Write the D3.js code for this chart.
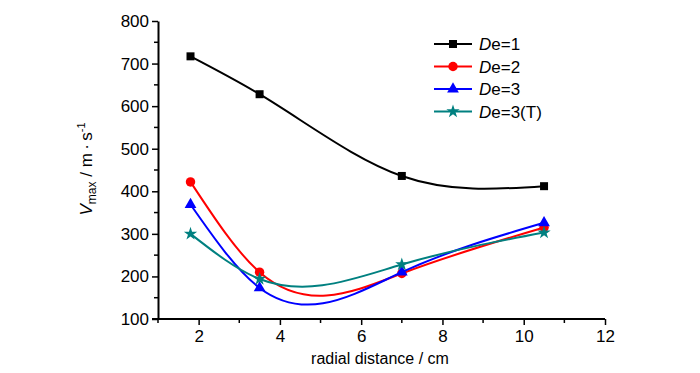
<html>
<head>
<script src="https://cdnjs.cloudflare.com/ajax/libs/d3/7.8.5/d3.min.js"></script>
<style>
  body { margin: 0; background: #fff; }
  text { font-family: "Liberation Sans", Arial, sans-serif; fill: #000; }
</style>
</head>
<body>
<svg id="chart"></svg>
<script>

    var width = 700,
        height = 373;

    // radial distance (cm)
    var distance = [1.8, 3.5, 7, 10.5];

    var de1 = [717, 628, 436, 412];
    var de2 = [422, 210, 207, 315];
    var de3 = [369, 173, 210, 326];
    var de3t = [300, 194, 228, 303];

    var seriesNames = ["De=1", "De=2", "De=3", "De=3(T)"];
    var xTicks = [2, 4, 6, 8, 10, 12];
    var yTicks = [100, 200, 300, 400, 500, 600, 700, 800];

    var series = [
        {name: seriesNames[0], values: de1, color: "#000000", symbol: d3.symbolSquare, size: 64},
        {name: seriesNames[1], values: de2, color: "#ff0000", symbol: d3.symbolCircle, size: 70},
        {name: seriesNames[2], values: de3, color: "#0000ff", symbol: d3.symbolTriangle, size: 60},
        {name: seriesNames[3], values: de3t, color: "#008080", symbol: d3.symbolStar, size: 55}
    ];

    // natural cubic spline parametrised by x (like Origin's spline connect)
    function NaturalX(context) { this._context = context; }
    NaturalX.prototype = {
        areaStart: function() { this._line = 0; },
        areaEnd: function() { this._line = NaN; },
        lineStart: function() { this._xs = []; this._ys = []; },
        point: function(px, py) { this._xs.push(+px); this._ys.push(+py); },
        lineEnd: function() {
            var xs = this._xs, ys = this._ys, n = xs.length, c = this._context;
            if (!n) return;
            c.moveTo(xs[0], ys[0]);
            if (n < 3) { if (n === 2) c.lineTo(xs[1], ys[1]); return; }
            var h = [], d = [], i;
            for (i = 0; i < n - 1; i++) { h[i] = xs[i + 1] - xs[i]; d[i] = (ys[i + 1] - ys[i]) / h[i]; }
            // tridiagonal system for second derivatives (M0 = Mn = 0)
            var M = new Array(n).fill(0), a = [], b = [], r = [];
            for (i = 1; i < n - 1; i++) {
                a[i] = h[i - 1]; b[i] = 2 * (h[i - 1] + h[i]); r[i] = 6 * (d[i] - d[i - 1]);
            }
            var cp = [], rp = [];
            for (i = 1; i < n - 1; i++) {
                var den = b[i] - (i > 1 ? a[i] * cp[i - 1] : 0);
                cp[i] = h[i] / den;
                rp[i] = (r[i] - (i > 1 ? a[i] * rp[i - 1] : 0)) / den;
            }
            for (i = n - 2; i >= 1; i--) M[i] = rp[i] - (i < n - 2 ? cp[i] * M[i + 1] : 0);
            for (i = 0; i < n - 1; i++) {
                var m0 = d[i] - h[i] * (2 * M[i] + M[i + 1]) / 6,
                    m1 = d[i] + h[i] * (M[i] + 2 * M[i + 1]) / 6,
                    t = h[i] / 3;
                c.bezierCurveTo(xs[i] + t, ys[i] + m0 * t, xs[i + 1] - t, ys[i + 1] - m1 * t, xs[i + 1], ys[i + 1]);
            }
        }
    };
    var curveNaturalX = function(context) { return new NaturalX(context); };

    var x = d3.scaleLinear()
        .domain([1, 12])
        .range([158, 605]);

    var y = d3.scaleLinear()
        .domain([100, 800])
        .range([319, 21]);

    var svg = d3.select("#chart")
        .attr("width", width)
        .attr("height", height);

    // minor ticks
    var xMinor = d3.range(1, 12, 2);
    var yMinor = d3.range(150, 800, 100);

    svg.append("g")
        .selectAll("line")
        .data(xMinor)
        .enter().append("line")
        .attr("x1", function(d) { return x(d); })
        .attr("x2", function(d) { return x(d); })
        .attr("y1", 319)
        .attr("y2", 323)
        .attr("stroke", "#000")
        .attr("stroke-width", 1.5);

    svg.append("g")
        .selectAll("line")
        .data(yMinor)
        .enter().append("line")
        .attr("x1", 154)
        .attr("x2", 158)
        .attr("y1", function(d) { return y(d); })
        .attr("y2", function(d) { return y(d); })
        .attr("stroke", "#000")
        .attr("stroke-width", 1.5);

    var xAxis = svg.append("g")
        .attr("transform", "translate(0,319)")
        .call(d3.axisBottom(x).tickValues(xTicks).tickSize(6).tickSizeOuter(0).tickPadding(5));

    var yAxis = svg.append("g")
        .attr("transform", "translate(158,0)")
        .call(d3.axisLeft(y).tickValues(yTicks).tickSize(6).tickSizeOuter(0).tickPadding(3));

    [xAxis, yAxis].forEach(function(a) {
        a.select(".domain").attr("stroke-width", 2);
        a.selectAll(".tick line").attr("stroke-width", 1.5);
        a.selectAll(".tick text")
            .style("font-family", "'Liberation Sans', Arial, sans-serif")
            .style("font-size", "17px")
            .attr("fill", "#000");
    });
    xAxis.select(".domain").attr("d", "M152,0H605");

    // axis titles
    svg.append("text")
        .attr("x", 380)
        .attr("y", 364)
        .attr("text-anchor", "middle")
        .style("font-size", "16px")
        .text("radial distance / cm");

    var yt = svg.append("text")
        .attr("transform", "translate(92,169) rotate(-90)")
        .attr("text-anchor", "middle")
        .style("font-size", "17px");
    yt.append("tspan").style("font-style", "italic").text("V");
    yt.append("tspan").attr("dy", 4).style("font-size", "12px").text("max");
    yt.append("tspan").attr("dy", -4).text(" / m\u2009\u00b7\u2009s");
    yt.append("tspan").attr("dy", -7).style("font-size", "11px").text("-1");

    var line = d3.line()
        .x(function(d, i) { return x(distance[i]); })
        .y(function(d) { return y(d); })
        .curve(curveNaturalX);

    var groups = svg.append("g")
        .selectAll(".series")
        .data(series)
        .enter().append("g")
        .attr("class", "series");

    groups.append("path")
        .attr("d", function(s) { return line(s.values); })
        .attr("fill", "none")
        .attr("stroke", function(s) { return s.color; })
        .attr("stroke-width", 2);

    groups.each(function(s) {
        d3.select(this).selectAll("path.pt")
            .data(s.values)
            .enter().append("path")
            .attr("class", "pt")
            .attr("d", d3.symbol().type(s.symbol).size(s.size))
            .attr("transform", function(d, i) { return "translate(" + x(distance[i]) + "," + y(d) + ")"; })
            .attr("fill", s.color);
    });

    // legend
    var legend = svg.append("g")
        .selectAll(".leg")
        .data(series)
        .enter().append("g")
        .attr("class", "leg")
        .attr("transform", function(d, i) { return "translate(434," + (44 + i * 22.5) + ")"; });

    legend.append("line")
        .attr("x1", 0)
        .attr("x2", 38)
        .attr("stroke", function(s) { return s.color; })
        .attr("stroke-width", 2);

    legend.append("path")
        .attr("transform", "translate(19,0)")
        .attr("d", function(s) { return d3.symbol().type(s.symbol).size(s.size)(); })
        .attr("fill", function(s) { return s.color; });

    var lt = legend.append("text")
        .attr("x", 45)
        .attr("dy", "0.36em")
        .style("font-size", "17px");
    lt.append("tspan").style("font-style", "italic").text("D");
    lt.append("tspan").text(function(s) { return s.name.slice(1); });

</script>
</body>
</html>
